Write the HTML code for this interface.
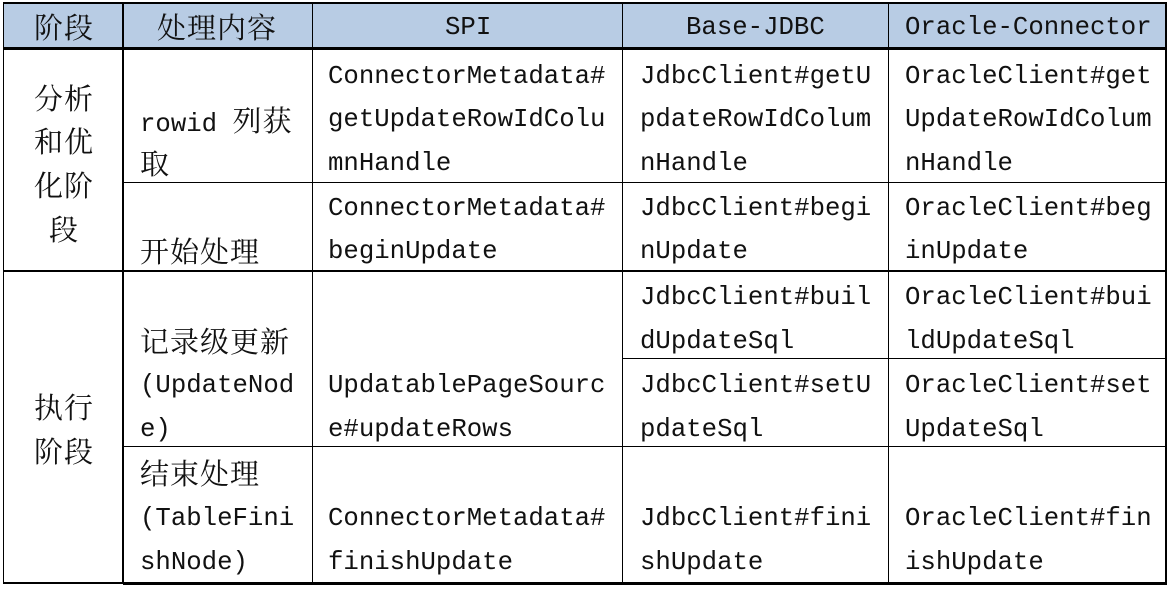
<!DOCTYPE html>
<html><head><meta charset="utf-8"><style>
body{margin:0;width:1172px;height:589px;background:#fff;position:relative;overflow:hidden;
font-family:"Liberation Mono","Noto Serif CJK SC",monospace;font-size:25.7px;color:#111}
.t{position:absolute;line-height:44px;white-space:pre}
.c{font-family:"Noto Serif CJK SC","Noto Sans CJK SC",serif;font-size:29px;letter-spacing:1px}
.l{position:absolute;background:#000}
</style></head><body>
<div style="position:absolute;left:3px;top:3px;width:1163px;height:45px;background:#b8cce4"></div>
<div class="l" style="left:3px;top:2px;width:1164px;height:2px"></div>
<div class="l" style="left:3px;top:47px;width:1164px;height:3px"></div>
<div class="l" style="left:123px;top:182px;width:1044px;height:1px"></div>
<div class="l" style="left:3px;top:270px;width:1164px;height:2px"></div>
<div class="l" style="left:623px;top:358px;width:544px;height:1px"></div>
<div class="l" style="left:123px;top:446px;width:1044px;height:1px"></div>
<div class="l" style="left:3px;top:582px;width:120px;height:2px"></div>
<div class="l" style="left:123px;top:582px;width:1044px;height:3px"></div>
<div class="l" style="left:3px;top:2px;width:1px;height:582px"></div>
<div class="l" style="left:122px;top:2px;width:2px;height:582px"></div>
<div class="l" style="left:312px;top:2px;width:1px;height:582px"></div>
<div class="l" style="left:622px;top:2px;width:1px;height:582px"></div>
<div class="l" style="left:888px;top:2px;width:1px;height:582px"></div>
<div class="l" style="left:1165px;top:2px;width:2px;height:583px"></div>

<div class="t c" style="left:34px;top:5px">阶段</div>
<div class="t c" style="left:157px;top:5px">处理内容</div>
<div class="t" style="left:445px;top:6px">SPI</div>
<div class="t" style="left:686px;top:6px">Base-JDBC</div>
<div class="t" style="left:905px;top:6px">Oracle-Connector</div>

<div class="t c" style="left:34px;top:76px">分析</div>
<div class="t c" style="left:34px;top:119px">和优</div>
<div class="t c" style="left:34px;top:163px">化阶</div>
<div class="t c" style="left:49px;top:207px">段</div>
<div class="t c" style="left:34px;top:385px">执行</div>
<div class="t c" style="left:34px;top:429px">阶段</div>

<div class="t" style="left:140px;top:98px">rowid <span class="c">列获</span></div>
<div class="t c" style="left:140px;top:141px">取</div>
<div class="t c" style="left:140px;top:229px">开始处理</div>
<div class="t c" style="left:140px;top:319px">记录级更新</div>
<div class="t" style="left:140px;top:364px">(UpdateNod</div>
<div class="t" style="left:140px;top:408px">e)</div>
<div class="t c" style="left:140px;top:451px">结束处理</div>
<div class="t" style="left:140px;top:497px">(TableFini</div>
<div class="t" style="left:140px;top:541px">shNode)</div>

<div class="t" style="left:328px;top:55px">ConnectorMetadata#</div>
<div class="t" style="left:328px;top:98px">getUpdateRowIdColu</div>
<div class="t" style="left:328px;top:142px">mnHandle</div>
<div class="t" style="left:328px;top:187px">ConnectorMetadata#</div>
<div class="t" style="left:328px;top:230px">beginUpdate</div>
<div class="t" style="left:328px;top:364px">UpdatablePageSourc</div>
<div class="t" style="left:328px;top:408px">e#updateRows</div>
<div class="t" style="left:328px;top:497px">ConnectorMetadata#</div>
<div class="t" style="left:328px;top:541px">finishUpdate</div>

<div class="t" style="left:640px;top:55px">JdbcClient#getU</div>
<div class="t" style="left:640px;top:98px">pdateRowIdColum</div>
<div class="t" style="left:640px;top:142px">nHandle</div>
<div class="t" style="left:640px;top:187px">JdbcClient#begi</div>
<div class="t" style="left:640px;top:230px">nUpdate</div>
<div class="t" style="left:640px;top:276px">JdbcClient#buil</div>
<div class="t" style="left:640px;top:320px">dUpdateSql</div>
<div class="t" style="left:640px;top:364px">JdbcClient#setU</div>
<div class="t" style="left:640px;top:408px">pdateSql</div>
<div class="t" style="left:640px;top:497px">JdbcClient#fini</div>
<div class="t" style="left:640px;top:541px">shUpdate</div>

<div class="t" style="left:905px;top:55px">OracleClient#get</div>
<div class="t" style="left:905px;top:98px">UpdateRowIdColum</div>
<div class="t" style="left:905px;top:142px">nHandle</div>
<div class="t" style="left:905px;top:187px">OracleClient#beg</div>
<div class="t" style="left:905px;top:230px">inUpdate</div>
<div class="t" style="left:905px;top:276px">OracleClient#bui</div>
<div class="t" style="left:905px;top:320px">ldUpdateSql</div>
<div class="t" style="left:905px;top:364px">OracleClient#set</div>
<div class="t" style="left:905px;top:408px">UpdateSql</div>
<div class="t" style="left:905px;top:497px">OracleClient#fin</div>
<div class="t" style="left:905px;top:541px">ishUpdate</div>
</body></html>
